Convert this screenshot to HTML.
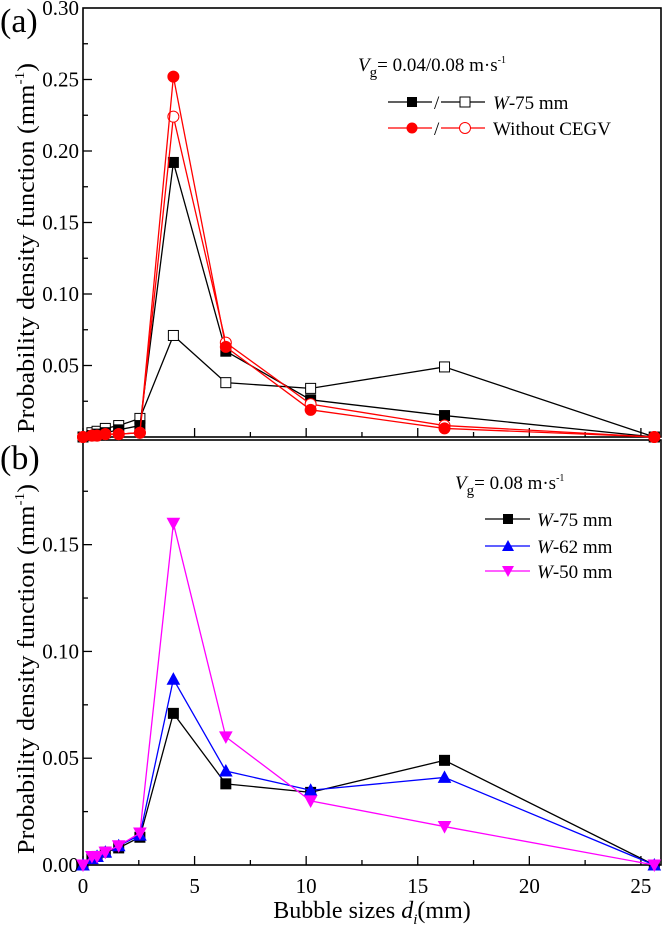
<!DOCTYPE html>
<html><head><meta charset="utf-8"><style>
body{margin:0;background:#fff}
svg{display:block}
svg text{font-family:"Liberation Serif","Times New Roman","DejaVu Serif",serif}
</style></head><body>
<svg id="c" width="666" height="926" viewBox="0 0 666 926" xmlns="http://www.w3.org/2000/svg">
<text x="0" y="32" font-size="34">(a)</text>
<text x="0" y="469" font-size="34">(b)</text>
<text transform="translate(34,248) rotate(-90)" text-anchor="middle" font-size="24" textLength="370" lengthAdjust="spacingAndGlyphs">Probability density function (mm<tspan dy="-10" font-size="14">-1</tspan><tspan dy="10">)</tspan></text>
<text transform="translate(34,669) rotate(-90)" text-anchor="middle" font-size="24" textLength="370" lengthAdjust="spacingAndGlyphs">Probability density function (mm<tspan dy="-10" font-size="14">-1</tspan><tspan dy="10">)</tspan></text>
<text x="372" y="918" text-anchor="middle" font-size="24">Bubble sizes <tspan font-style="italic">d</tspan><tspan font-style="italic" font-size="15" dy="6">i</tspan><tspan dy="-6">(mm)</tspan></text>
<g>
<text x="358" y="71" font-size="19"><tspan font-style="italic">V</tspan><tspan font-size="15" dy="6">g</tspan><tspan dy="-6">= 0.04/0.08 m·s</tspan><tspan font-size="10" dy="-8">-1</tspan></text>
<line x1="388" y1="102" x2="432" y2="102" stroke="#000" stroke-width="1.3"/><rect x="407" y="97" width="10" height="10" fill="#000"/>
<text x="434" y="109" font-size="19">/</text>
<line x1="441" y1="102" x2="485" y2="102" stroke="#000" stroke-width="1.3"/><rect x="460" y="97" width="10" height="10" fill="#fff" stroke="#000"/>
<text x="493" y="109" font-size="19"><tspan font-style="italic">W</tspan>-75 mm</text>
<line x1="388" y1="128" x2="432" y2="128" stroke="#f00" stroke-width="1.3"/><circle cx="412" cy="128" r="5.5" fill="#f00"/>
<text x="434" y="135" font-size="19">/</text>
<line x1="441" y1="128" x2="485" y2="128" stroke="#f00" stroke-width="1.3"/><circle cx="465" cy="128" r="5.5" fill="#fff" stroke="#f00"/>
<text x="493" y="135" font-size="19">Without CEGV</text>
</g>
<g>
<text x="455" y="489" font-size="19"><tspan font-style="italic">V</tspan><tspan font-size="15" dy="6">g</tspan><tspan dy="-6">= 0.08 m·s</tspan><tspan font-size="10" dy="-8">-1</tspan></text>
<line x1="485" y1="519" x2="530" y2="519" stroke="#000" stroke-width="1.3"/><rect x="503" y="514" width="10" height="10" fill="#000"/>
<text x="537" y="526" font-size="19"><tspan font-style="italic">W</tspan>-75 mm</text>
<line x1="485" y1="546" x2="530" y2="546" stroke="#00f" stroke-width="1.3"/><path d="M508,540 L514,551 L502,551Z" fill="#00f"/>
<text x="537" y="553" font-size="19"><tspan font-style="italic">W</tspan>-62 mm</text>
<line x1="485" y1="571" x2="530" y2="571" stroke="#f0f" stroke-width="1.3"/><path d="M502,566 L514,566 L508,577Z" fill="#f0f"/>
<text x="537" y="578" font-size="19"><tspan font-style="italic">W</tspan>-50 mm</text>
</g>
</svg>
<script>
const xs = [0, 0.4, 0.63, 1.0, 1.6, 2.55, 4.05, 6.4, 10.2, 16.2, 25.6];
const aW75Filled = [0, 0.001, 0.002, 0.003, 0.005, 0.008, 0.192, 0.060, 0.026, 0.015, 0];
const aW75Open = [0, 0.003, 0.004, 0.006, 0.008, 0.013, 0.071, 0.038, 0.034, 0.049, 0];
const aNoFilled = [0, 0.001, 0.001, 0.002, 0.002, 0.003, 0.252, 0.063, 0.019, 0.006, 0];
const aNoOpen = [0, 0.001, 0.001, 0.002, 0.002, 0.003, 0.224, 0.066, 0.023, 0.008, 0];
const bW75 = [0, 0.003, 0.004, 0.006, 0.008, 0.013, 0.071, 0.038, 0.034, 0.049, 0];
const bW62 = [0, 0.003, 0.004, 0.006, 0.009, 0.014, 0.087, 0.044, 0.035, 0.041, 0];
const bW50 = [0, 0.004, 0.004, 0.006, 0.009, 0.015, 0.160, 0.060, 0.030, 0.018, 0];
const xTicks = [0, 5, 10, 15, 20, 25];
const aYTicks = [0.05, 0.10, 0.15, 0.20, 0.25, 0.30];
const bYTicks = [0.00, 0.05, 0.10, 0.15];

const NS = "http://www.w3.org/2000/svg";
const svg = document.getElementById('c');
const X0 = 83, XR = 661, XMAX = 25.9;
const sx = v => X0 + v * (XR - X0) / XMAX;
const A = {top: 8, bot: 437, max: 0.30};
const B = {top: 440, bot: 865, max: 0.199};
const sy = (p, v) => p.bot - v * (p.bot - p.top) / p.max;
function mk(tag, attrs, parent) {
  const e = document.createElementNS(NS, tag);
  for (const k in attrs) e.setAttribute(k, attrs[k]);
  (parent || svg).appendChild(e);
  return e;
}
function frame(p, name, yTicks, step) {
  const g = mk('g', {});
  
  
  mk('rect', {x: X0, y: p.top, width: XR - X0, height: p.bot - p.top, fill: 'none', stroke: '#000', 'stroke-width': 1.6}, g);
  for (let v = 0; v <= 25.01; v += 2.5) {
    const maj = Math.abs(v / 5 - Math.round(v / 5)) < 1e-6;
    mk('line', {x1: sx(v), x2: sx(v), y1: p.bot, y2: p.bot - (maj ? 9 : 5), stroke: '#000', 'stroke-width': 1.3}, g);
  }
  for (let v = step; v < p.max; v += step) {
    const maj = Math.abs(v / 0.05 - Math.round(v / 0.05)) < 1e-6;
    mk('line', {x1: X0, x2: X0 + (maj ? 9 : 5), y1: sy(p, v), y2: sy(p, v), stroke: '#000', 'stroke-width': 1.3}, g);
  }
  yTicks.forEach(t => {
    const e = mk('text', {x: X0 - 4, y: sy(p, t) + 7, 'text-anchor': 'end', 'font-size': 21}, g);
    e.textContent = t.toFixed(2);
    
    
  });
}
frame(A, 'panel-a', aYTicks, 0.025);
frame(B, 'panel-b', bYTicks, 0.025);
xTicks.forEach(t => {
  const e = mk('text', {x: sx(t), y: 893, 'text-anchor': 'middle', 'font-size': 21});
  e.textContent = t;
  
  
});
function series(p, vals, color, marker, fill, name) {
  const g = mk('g', {});
  
  
  mk('polyline', {points: vals.map((v, i) => sx(xs[i]) + ',' + sy(p, v)).join(' '), fill: 'none', stroke: color, 'stroke-width': 1.3}, g);
  vals.forEach((v, i) => {
    const x = sx(xs[i]), y = sy(p, v);
    let m;
    if (marker === 'sq') m = mk('rect', {x: x - 5, y: y - 5, width: 10, height: 10}, g);
    else if (marker === 'ci') m = mk('circle', {cx: x, cy: y, r: 5.5}, g);
    else if (marker === 'up') m = mk('path', {d: `M${x},${y-6} L${x+6},${y+5} L${x-6},${y+5}Z`}, g);
    else m = mk('path', {d: `M${x-6},${y-5} L${x+6},${y-5} L${x},${y+6}Z`}, g);
    m.setAttribute('fill', fill);
    m.setAttribute('stroke', color);
    
    
  });
}
series(A, aW75Open, '#000', 'sq', '#fff', 'series-a-w75-open');
series(A, aW75Filled, '#000', 'sq', '#000', 'series-a-w75-filled');
series(A, aNoOpen, '#f00', 'ci', '#fff', 'series-a-without-open');
series(A, aNoFilled, '#f00', 'ci', '#f00', 'series-a-without-filled');
series(B, bW75, '#000', 'sq', '#000', 'series-b-w75');
series(B, bW62, '#00f', 'up', '#00f', 'series-b-w62');
series(B, bW50, '#f0f', 'dn', '#f0f', 'series-b-w50');
</script>
</body></html>
